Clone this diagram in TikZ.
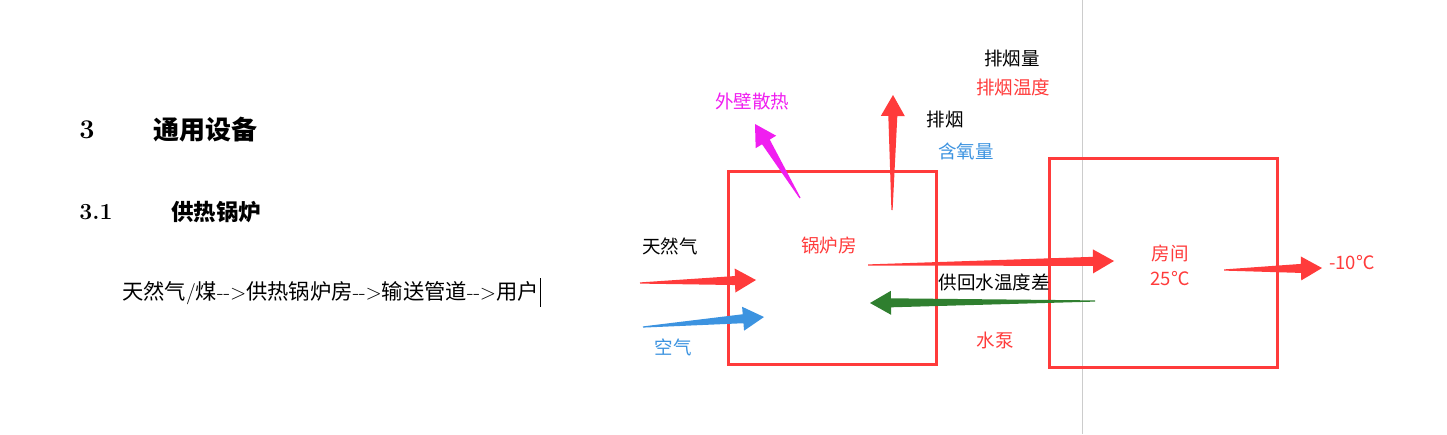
\documentclass[tikz,border=0pt]{standalone}
\usepackage{fontspec}
\newfontfamily\cjk{Noto Sans CJK SC}
\usetikzlibrary{calc}

\definecolor{hotred}{HTML}{FF3B3B}
\definecolor{airblue}{HTML}{3C93E0}
\definecolor{wallpink}{HTML}{F01EF0}
\definecolor{pumpgreen}{HTML}{2F7F2F}

% tapered arrow: colour, tail, tip
\newcommand{\fatarrow}[3]{%
  \path (#2) coordinate (ft) (#3) coordinate (fh) ($(fh)!21pt!(ft)$) coordinate (fb);
  \fill[#1] ($(ft)!0.6pt!90:(fh)$) -- ($(fb)!4.5pt!-90:(ft)$) -- ($(fb)!12pt!-90:(ft)$)
    -- (fh) -- ($(fb)!12pt!90:(ft)$) -- ($(fb)!4.5pt!90:(ft)$) -- ($(ft)!0.6pt!-90:(fh)$) -- cycle;
}
% arrow in the text line
\newcommand{\txtarr}{\rmfamily-{}-{}>}

\tikzset{
  lbl/.style={font=\cjk\fontsize{18.5}{22}\selectfont, inner sep=0pt},
  housebox/.style={draw=hotred, line width=3pt, inner sep=0pt}
}

\begin{document}
\begin{tikzpicture}[x=1pt,y=-1pt]
  \useasboundingbox (0,0) rectangle (1447,434);

  % left text
  \node[font=\fontsize{27}{30}\selectfont\bfseries] (secnum) at (87,130) {3};
  \node[font=\cjk\fontsize{26}{30}\selectfont\bfseries] (sectitle) at (205,130) {通用设备};
  \node[font=\fontsize{23}{26}\selectfont\bfseries] (subnum) at (96,212) {3.1};
  \node[font=\cjk\fontsize{22.5}{26}\selectfont\bfseries] (subtitle) at (216,212) {供热锅炉};
  \node[font=\fontsize{21.3}{24}\selectfont, anchor=west, inner sep=0pt] (chain) at (122,293)
    {{\cjk 天然气}/{\cjk 煤}{\txtarr}{\cjk 供热锅炉房}{\txtarr}{\cjk 输送管道}{\txtarr}{\cjk 用户}};
  \draw[line width=1pt] (chain.north east) ++(2,-3) coordinate (cur1) -- ++(0,29) coordinate (cur2);

  % page edge
  \draw[black!20, line width=1pt] (1082,0) -- (1082,434);

  % boxes
  \node[housebox, minimum width=208pt, minimum height=193pt] (boiler) at (832,267.5) {};
  \node[housebox, minimum width=228pt, minimum height=209pt] (room) at (1163,262.5) {};

  % labels
  \node[lbl, text=hotred] (boilername) at (829,245) {锅炉房};
  \node[lbl, text=hotred] (roomname) at (1170,253) {房间};
  \node[lbl, text=hotred] (roomtemp) at (1170,279) {25℃};
  \node[lbl, text=hotred] (outtemp) at (1352,263) {-10℃};
  \node[lbl] (gas) at (670,246) {天然气};
  \node[lbl, text=airblue] (air) at (673,347) {空气};
  \node[lbl, text=wallpink] (wallheat) at (752,101) {外壁散热};
  \node[lbl] (flue) at (945,119) {排烟};
  \node[lbl, text=airblue] (oxygen) at (966,151) {含氧量};
  \node[lbl] (fluevol) at (1012,58) {排烟量};
  \node[lbl, text=hotred] (fluetemp) at (1013,87) {排烟温度};
  \node[lbl] (deltat) at (994,282) {供回水温度差};
  \node[lbl, text=hotred] (pump) at (995,340) {水泵};

  % arrow ends
  \coordinate (gasA) at (640,283);   \coordinate (gasB) at (756,280);
  \coordinate (airA) at (643,327);   \coordinate (airB) at (764,317);
  \coordinate (wallA) at (800,198);  \coordinate (wallB) at (755,124);
  \coordinate (flueA) at (892,210);  \coordinate (flueB) at (893,95);
  \coordinate (supA) at (868,265);   \coordinate (supB) at (1114,261);
  \coordinate (retA) at (1095,301);  \coordinate (retB) at (870,303);
  \coordinate (lossA) at (1224,270); \coordinate (lossB) at (1322,268);

  \fatarrow{hotred}{gasA}{gasB}
  \fatarrow{airblue}{airA}{airB}
  \fatarrow{wallpink}{wallA}{wallB}
  \fatarrow{hotred}{flueA}{flueB}
  \fatarrow{hotred}{supA}{supB}
  \fatarrow{pumpgreen}{retA}{retB}
  \fatarrow{hotred}{lossA}{lossB}
\end{tikzpicture}
\end{document}
